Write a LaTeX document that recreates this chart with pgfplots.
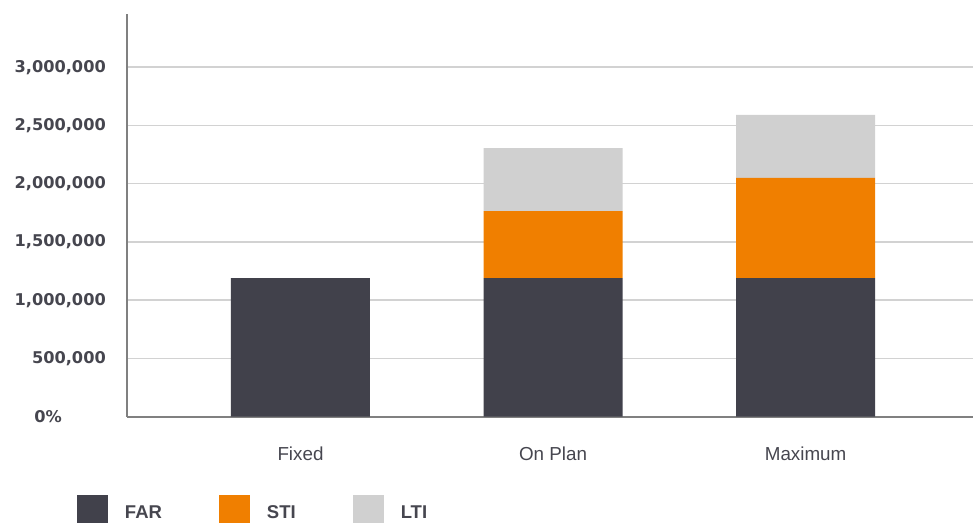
\documentclass[border=0pt]{standalone}
\usepackage{fontspec}
\setmainfont{Liberation Sans}
\newfontfamily\tickfont{DejaVu Sans}
\usepackage{pgfplots}
\pgfplotsset{compat=1.18}
\definecolor{far}{HTML}{41414B}
\definecolor{sti}{HTML}{F07F00}
\definecolor{lti}{HTML}{D0D0D0}
\definecolor{txt}{HTML}{46464F}
\definecolor{gridc}{HTML}{D2D2D2}
\definecolor{axc}{HTML}{808080}
\begin{document}
\begin{tikzpicture}
\begin{axis}[
  at={(0pt,0pt)}, anchor=south west,
  scale only axis, width=846pt, height=402.7pt,
  xmin=-0.687, xmax=2.663, ymin=0, ymax=3457000,
  axis lines*=left,
  axis line style={axc, line width=2pt},
  ybar stacked, bar width=139pt,
  xtick={0,1,2}, xticklabels={Fixed,On Plan,Maximum},
  scaled y ticks=false,
  ytick={0,500000,1000000,1500000,2000000,2500000,3000000},
  yticklabels={{0\%\hspace*{44pt}},{500,000},{1,000,000},{1,500,000},{2,000,000},{2,500,000},{3,000,000}},
  ymajorgrids, grid style={gridc, line width=1.5pt},
  major tick length=0pt,
  yticklabel style={font=\tickfont\bfseries\fontsize{16.2}{18}\selectfont, text=txt, anchor=east, inner sep=0pt, xshift=-21pt},
  xticklabel style={font=\fontsize{18.8}{20}\selectfont, text=txt, anchor=base, inner sep=0pt, yshift=-43.3pt},
  legend columns=3,
  legend image code/.code={\fill[#1] (0pt,-13.6pt) rectangle (31pt,17.4pt);},
  legend style={at={(0,0)}, anchor=north west, xshift=-50pt, yshift=-78.3pt,
    draw=none, fill=none, inner sep=0pt, outer sep=0pt,
    font=\bfseries\fontsize{18.5}{20}\selectfont, text=txt,
    nodes={inner sep=0pt, outer sep=0pt},
    /tikz/every odd column/.append style={column sep=17pt},
    /tikz/every even column/.append style={column sep=57pt}},
]
\addplot[fill=far, draw=none] coordinates {(0,1190000) (1,1190000) (2,1190000)};
\addplot[fill=sti, draw=none] coordinates {(0,0) (1,575000) (2,860000)};
\addplot[fill=lti, draw=none] coordinates {(0,0) (1,540000) (2,540000)};
\legend{FAR,STI,LTI}
\end{axis}
\pgfresetboundingbox
\path (-127pt,-105.3pt) rectangle (846pt,416.7pt);
\end{tikzpicture}
\end{document}
